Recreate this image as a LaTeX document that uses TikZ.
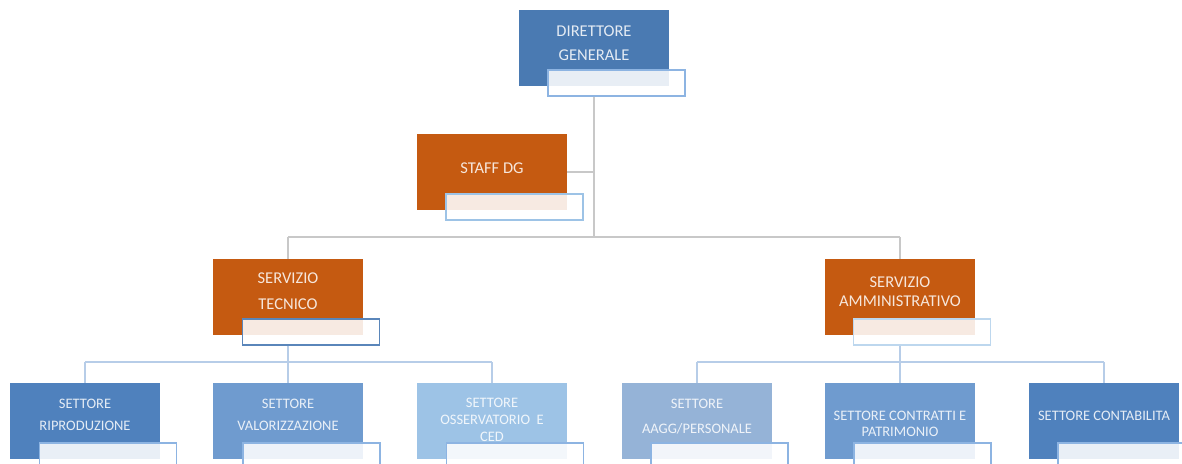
\documentclass[tikz,border=0pt]{standalone}
\usepackage{fontspec}
\setmainfont{Carlito}
\definecolor{cDG}{HTML}{4A7AB2}
\definecolor{cOr}{HTML}{C55A11}
\definecolor{cRip}{HTML}{4F81BD}
\definecolor{cVal}{HTML}{6F9BCF}
\definecolor{cOss}{HTML}{9DC3E6}
\definecolor{cAag}{HTML}{95B3D7}
\definecolor{cCon}{HTML}{6F9BCF}
\definecolor{cCnt}{HTML}{4F81BD}
\definecolor{sA}{HTML}{8DB4E2}
\definecolor{sB}{HTML}{9DC3E6}
\definecolor{sC}{HTML}{5A86BA}
\definecolor{sD}{HTML}{BDD7EE}
\definecolor{lnG}{HTML}{C8C8C8}
\definecolor{lnB}{HTML}{B7CDE8}
\begin{document}
\begin{tikzpicture}[x=1pt,y=-1pt,
  box/.style={fill=#1, draw=none, minimum width=150pt, minimum height=76pt, inner sep=0pt},
  subbox/.style={draw=#1, line width=1.3pt, fill=white, fill opacity=0.88, minimum width=137pt, minimum height=26pt, inner sep=0pt},
  lbl/.style={text=white, text opacity=0.85, align=center, inner sep=0pt},
  big/.style={font=\fontsize{16.5}{#1}\selectfont},
  small/.style={font=\fontsize{14.5}{#1}\selectfont},
  greyline/.style={draw=lnG, line width=1.5pt},
  blueline/.style={draw=lnB, line width=1.5pt}]
\useasboundingbox (0,0) rectangle (1182,463);
\clip (0,0) rectangle (1182,463);

% top level
\node[box=cDG] (dg) at (594,48) {};
\node[subbox=sA] (dgs) at ([shift={(22.5,35)}]dg.center) {};
\node[lbl, big=24] (dgt) at (594,43) {DIRETTORE\\GENERALE};

\node[box=cOr] (staff) at (492,172) {};
\node[subbox=sB] (staffs) at ([shift={(22.5,35)}]staff.center) {};
\node[lbl, big=20] (stafft) at (492,168) {STAFF DG};

\node[box=cOr] (tec) at (288,297) {};
\node[subbox=sC] (tecs) at ([shift={(23,35)}]tec.center) {};
\node[lbl, big=26] (tect) at (288,291) {SERVIZIO\\TECNICO};

\node[box=cOr] (amm) at (900,297) {};
\node[subbox=sD] (amms) at ([shift={(22,35)}]amm.center) {};
\node[lbl, big=19] (ammt) at (900,291.5) {SERVIZIO\\AMMINISTRATIVO};

% settori
\node[box=cRip] (rip) at (85,421) {};
\node[subbox=sA] (rips) at ([shift={(23,35)}]rip.center) {};
\node[lbl, small=22] (ript) at (85,415) {SETTORE\\RIPRODUZIONE};

\node[box=cVal] (val) at (288,421) {};
\node[subbox=sA] (vals) at ([shift={(23.5,35)}]val.center) {};
\node[lbl, small=22] (valt) at (288,415) {SETTORE\\VALORIZZAZIONE};

\node[box=cOss] (oss) at (492,421) {};
\node[subbox=sA] (osss) at ([shift={(23,35)}]oss.center) {};
\node[lbl, small=17] (osst) at (492,420) {SETTORE\\OSSERVATORIO\ \ E\\CED};

\node[box=cAag] (aag) at (697,421) {};
\node[subbox=sA] (aags) at ([shift={(22.5,35)}]aag.center) {};
\node[lbl, small=25] (aagt) at (697,417) {SETTORE\\AAGG/PERSONALE};

\node[box=cCon] (con) at (900,421) {};
\node[subbox=sA] (cons) at ([shift={(22.5,35)}]con.center) {};
\node[lbl, small=16] (cont) at (900,424) {SETTORE CONTRATTI E\\PATRIMONIO};

\node[box=cCnt] (cnt) at (1104,421) {};
\node[subbox=sA] (cnts) at ([shift={(22.5,35)}]cnt.center) {};
\node[lbl, small=16] (cntt) at (1104,416) {SETTORE CONTABILITA};

% connectors
\coordinate (mj) at (594,237);
\coordinate (tj) at (288,362);
\coordinate (aj) at (900,362);
\draw[greyline] (dg.center |- dgs.south) -- (mj);
\draw[greyline] (staff.east) -- (staff.east -| mj);
\draw[greyline] (mj -| tec.north) -- (mj -| amm.north);
\draw[greyline] (mj -| tec.north) -- (tec.north);
\draw[greyline] (mj -| amm.north) -- (amm.north);

\draw[blueline] (tec.center |- tecs.south) -- (tj);
\draw[blueline] (tj -| rip.north) -- (tj -| oss.north);
\draw[blueline] (tj -| rip.north) -- (rip.north);
\draw[blueline] (tj -| val.north) -- (val.north);
\draw[blueline] (tj -| oss.north) -- (oss.north);

\draw[blueline] (amm.center |- amms.south) -- (aj);
\draw[blueline] (aj -| aag.north) -- (aj -| cnt.north);
\draw[blueline] (aj -| aag.north) -- (aag.north);
\draw[blueline] (aj -| con.north) -- (con.north);
\draw[blueline] (aj -| cnt.north) -- (cnt.north);
\end{tikzpicture}
\end{document}
